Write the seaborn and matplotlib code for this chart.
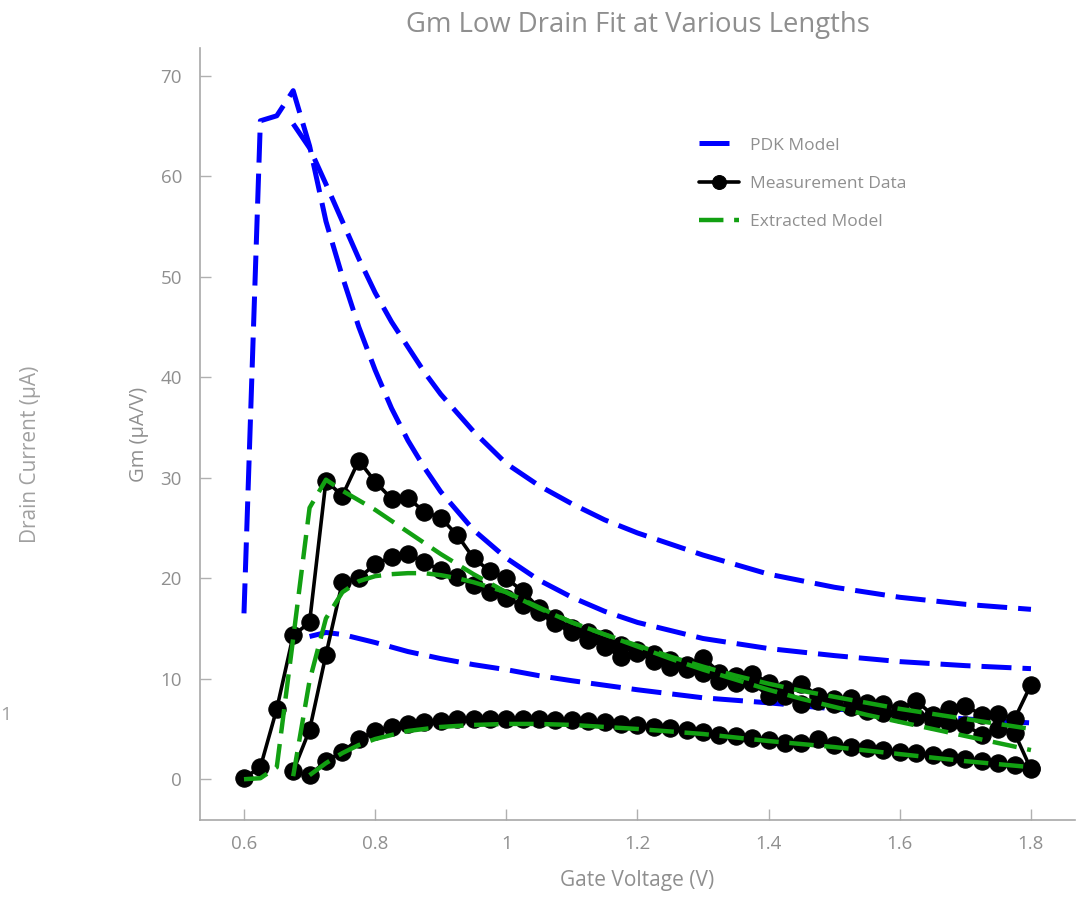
import numpy as np
import pandas as pd
import matplotlib
matplotlib.use("Agg")
import matplotlib.pyplot as plt
import seaborn as sns

sns.set_style("ticks", {"xtick.direction": "in", "ytick.direction": "in"})
plt.rcParams['font.family'] = ['Open Sans', 'DejaVu Sans']

grey = "#8f8f8f"

# measurement sweep, 25 mV steps
vg_meas1 = np.round(np.arange(0.6, 1.8001, 0.025), 3)
vg_meas2 = np.round(np.arange(0.675, 1.8001, 0.025), 3)
vg_meas3 = np.round(np.arange(0.7, 1.8001, 0.025), 3)

gm_meas1 = [0.1, 1.2, 7.0, 14.3, 15.6, 29.7, 28.2, 31.7, 29.6, 27.9, 28.0, 26.6, 26.0,
            24.3, 22.0, 20.7, 20.0, 18.7, 17.0,
            16.0, 15.0, 14.6, 14.0, 13.4, 12.9, 12.5, 11.9, 11.4, 12.1, 10.6, 10.3,
            10.5, 9.6, 9.0, 9.5, 8.3, 8.0, 8.1, 7.6, 7.5, 7.0, 7.8, 6.4, 7.0, 7.3,
            6.4, 6.5, 6.0, 9.4]
gm_meas2 = [0.8, 4.9, 12.4, 19.6, 20.0, 21.4, 22.1, 22.4, 21.6, 20.8, 20.1, 19.3, 18.6,
            18.0, 17.3, 16.6,
            15.5, 14.6, 13.9, 13.2, 12.2, 12.6, 11.8, 11.2, 11.0, 10.6, 9.8, 9.6,
            9.6, 8.3, 8.3, 7.5, 7.8, 7.5, 7.2, 6.8, 6.6, 6.5, 6.2, 5.8, 5.6, 5.4,
            4.4, 5.0, 4.6, 1.0]
gm_meas3 = [0.4, 1.8, 2.7, 4.0, 4.8, 5.2, 5.5, 5.7, 5.8, 6.0, 6.0, 6.0,
            6.0, 6.0, 6.0, 5.9, 5.9, 5.8, 5.7, 5.5, 5.4, 5.2, 5.1, 4.9, 4.7, 4.4,
            4.3, 4.1, 3.9, 3.6, 3.6, 4.0, 3.4, 3.2, 3.1, 2.9, 2.7, 2.6, 2.4, 2.2,
            2.0, 1.8, 1.6, 1.4, 1.1]

# PDK model
vg_pdk1 = [0.6, 0.625, 0.65, 0.675, 0.7, 0.725, 0.75, 0.775, 0.8, 0.825, 0.85, 0.875,
           0.9, 0.95, 1.0, 1.05, 1.1, 1.15, 1.2, 1.3, 1.4, 1.5, 1.6, 1.7, 1.8]
gm_pdk1 = [16.5, 65.5, 66.0, 68.5, 63.0, 55.5, 50.0, 45.0, 40.7, 36.9, 33.7, 31.0,
           28.6, 24.8, 22.0, 19.8, 18.1, 16.7, 15.6, 14.0, 13.0, 12.3, 11.7, 11.3, 11.0]
vg_pdk2 = [0.675, 0.7, 0.725, 0.75, 0.775, 0.8, 0.825, 0.85, 0.875, 0.9, 0.95, 1.0,
           1.05, 1.1, 1.15, 1.2, 1.3, 1.4, 1.5, 1.6, 1.7, 1.8]
gm_pdk2 = [65.2, 62.8, 59.2, 55.5, 51.8, 48.4, 45.5, 43.0, 40.5, 38.3, 34.6, 31.4,
           29.2, 27.4, 25.8, 24.5, 22.3, 20.4, 19.1, 18.1, 17.4, 16.9]
vg_pdk3 = [0.7, 0.725, 0.75, 0.8, 0.85, 0.9, 0.95, 1.0, 1.05, 1.1, 1.2, 1.3, 1.4,
           1.5, 1.6, 1.7, 1.8]
gm_pdk3 = [14.2, 14.6, 14.4, 13.6, 12.7, 12.0, 11.4, 10.9, 10.3, 9.8, 8.9, 8.1, 7.6,
           7.0, 6.5, 6.0, 5.6]

# extracted model
vg_ext1 = [0.6, 0.625, 0.65, 0.675, 0.7, 0.725, 0.75, 0.8, 0.85, 0.9, 0.95, 1.0, 1.05,
           1.1, 1.15, 1.2, 1.25, 1.3, 1.35, 1.4, 1.45, 1.5, 1.55, 1.6, 1.65, 1.7, 1.75, 1.8]
gm_ext1 = [0.0, 0.1, 1.2, 14.0, 27.0, 29.8, 28.7, 26.8, 24.6, 22.4, 20.4, 18.6, 17.0,
           15.6, 14.4, 13.2, 12.0, 10.9, 9.9, 8.9, 8.0, 7.2, 6.4, 5.7, 5.0, 4.3, 3.6, 2.9]
vg_ext2 = [0.675, 0.7, 0.725, 0.75, 0.775, 0.8, 0.825, 0.85, 0.875, 0.9, 0.925, 0.95,
           0.975, 1.0, 1.05, 1.1, 1.15, 1.2, 1.25, 1.3, 1.35, 1.4, 1.45, 1.5, 1.55, 1.6,
           1.65, 1.7, 1.75, 1.8]
gm_ext2 = [0.3, 9.8, 16.0, 18.6, 19.7, 20.2, 20.4, 20.5, 20.5, 20.3, 20.0, 19.6,
           19.1, 18.6, 17.1, 15.6, 14.4, 13.3, 12.2, 11.2, 10.3, 9.5, 8.8, 8.2, 7.6, 7.0,
           6.5, 6.0, 5.5, 5.0]
vg_ext3 = [0.7, 0.725, 0.75, 0.775, 0.8, 0.85, 0.9, 0.95, 1.0, 1.05, 1.1, 1.2, 1.3,
           1.4, 1.5, 1.6, 1.7, 1.8]
gm_ext3 = [0.4, 1.6, 2.6, 3.4, 4.0, 4.8, 5.2, 5.4, 5.5, 5.5, 5.4, 5.0, 4.5, 3.8, 3.2,
           2.5, 1.8, 1.2]

fig = plt.figure(figsize=(10.79, 8.97), dpi=100)
ax = fig.add_axes([0.1854, 0.0858, 0.8108, 0.8602])

blue_ls = (0, (6, 2.2))
green_ls = (0, (5.5, 2.4))

for i, (vx, gy) in enumerate([(vg_pdk1, gm_pdk1), (vg_pdk2, gm_pdk2), (vg_pdk3, gm_pdk3)]):
    sns.lineplot(x=vx, y=gy, ax=ax, color="#0000ff", lw=3.6, linestyle=blue_ls,
                 sort=False, estimator=None, label="PDK Model" if i == 0 else None)

for i, (vx, gy) in enumerate([(vg_meas1, gm_meas1), (vg_meas2, gm_meas2), (vg_meas3, gm_meas3)]):
    sns.lineplot(x=vx, y=gy, ax=ax, color="black", lw=2.6, marker="o", markersize=12.5,
                 markeredgecolor="black", sort=False, estimator=None,
                 label="Measurement Data" if i == 0 else None)

for i, (vx, gy) in enumerate([(vg_ext1, gm_ext1), (vg_ext2, gm_ext2), (vg_ext3, gm_ext3)]):
    sns.lineplot(x=vx, y=gy, ax=ax, color="#12a012", lw=3.2, linestyle=green_ls,
                 sort=False, estimator=None, label="Extracted Model" if i == 0 else None)

ax.set_xlim(0.533, 1.867)
ax.set_ylim(-4.06, 72.7)
ax.set_xticks([0.6, 0.8, 1.0, 1.2, 1.4, 1.6, 1.8])
ax.set_xticklabels(["0.6", "0.8", "1", "1.2", "1.4", "1.6", "1.8"])
ax.set_yticks([0, 10, 20, 30, 40, 50, 60, 70])
ax.tick_params(colors="#b0b0b0", labelcolor=grey, labelsize=13.5, length=8, width=1)
ax.tick_params(axis="x", pad=11)
ax.tick_params(axis="y", pad=13)
for s in ["top", "right"]:
    ax.spines[s].set_visible(False)
for s in ["left", "bottom"]:
    ax.spines[s].set_color("#a8a8a8")
    ax.spines[s].set_linewidth(1.2)

ax.set_xlabel("Gate Voltage (V)", color=grey, fontsize=15, labelpad=12)
ax.set_ylabel("Gm (µA/V)", color=grey, fontsize=14.5, labelpad=8)
ax.set_title("Gm Low Drain Fit at Various Lengths", color=grey, fontsize=19.8, pad=12)

fig.text(0.028, 0.493, "Drain Current (µA)", rotation=90, color="#a0a0a0",
         fontsize=15, ha="center", va="center")
fig.text(0.0, 0.203, "1", color="#a0a0a0", fontsize=14, ha="left", va="center")

leg = ax.legend(loc="upper left", bbox_to_anchor=(0.553, 0.905), frameon=False,
                fontsize=12.5, handlelength=2.3, labelspacing=1.27, markerscale=0.8,
                handletextpad=0.6)
for t in leg.get_texts():
    t.set_color(grey)

fig.savefig("out.png", dpi=100)
